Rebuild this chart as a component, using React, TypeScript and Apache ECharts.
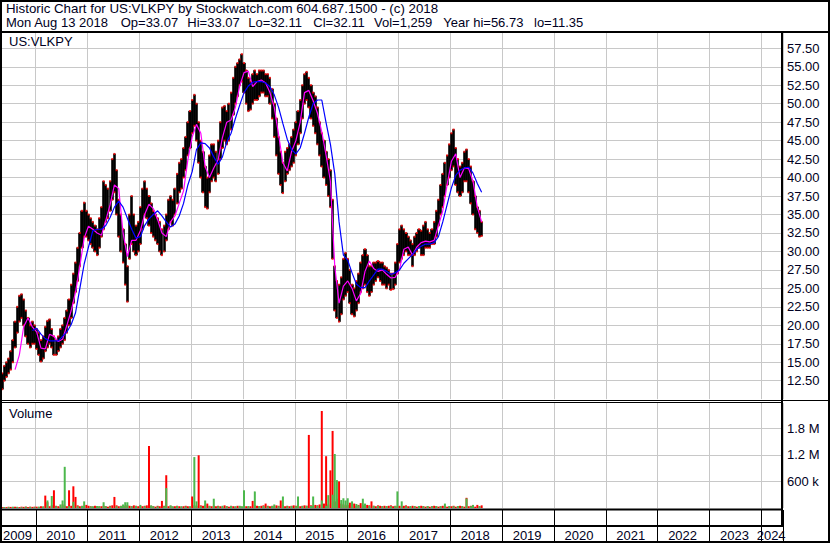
import React, { useEffect, useRef } from "react";
import * as echarts from "echarts";

// ---- time slots: half-month categories, May 2009 (first half) .. May 2024 (first half)
const SLOT_COUNT = 362;
const categories: string[] = [];
for (let i = 0; i < SLOT_COUNT; i++) {
  const m = 4 + Math.floor(i / 2);
  const y = 2009 + Math.floor(m / 12);
  const mm = (m % 12) + 1;
  categories.push(`${y}-${String(mm).padStart(2, "0")}${i % 2 ? "b" : "a"}`);
}
const yearLabels = ["2009","2010","2011","2012","2013","2014","2015","2016","2017","2018","2019","2020","2021","2022","2023","2024"];
const yearLabelSlots = ["2009-08b","2010-06b","2011-06b","2012-06b","2013-06b","2014-06b","2015-06b","2016-06b","2017-06b","2018-06b","2019-06b","2020-06b","2021-06b","2022-06b","2023-06b","2024-03a"];

// ---- price: half-month high / low, slot 0 = May 2009
const priceHigh = [
  13.5,14.5,15,15.5,16.5,18,20.5,22.5,24,24.2,23.5,22,21,20,20.5,20,
  19.5,19,18,18.5,19.8,20.6,20.8,19.5,18.5,18,18.5,19.5,20,21,22,23.5,25.5,27,28.5,30.5,32.5,35.5,36.6,35.5,
  35,34.5,34,33.5,33,34.5,36,39.5,39,38.5,39.5,42.5,43.2,41,37,35,33,31,28,35,37.5,35,33.5,34,
  36,38.5,39.5,38.5,37.5,36.5,35.5,35,34.5,34,33,33.5,35,37,37.5,37,38.5,40.5,42,42.5,44,45.5,47.5,49,
  50.5,51.2,50,47.5,45,43.5,41.5,40,43,44.5,44.5,43.5,45,47.5,49.5,49.7,49,50,51.5,53.5,55,55.5,56,56.7,
  55.5,54.5,53.5,53,54,54.5,54,54.5,54.5,54.5,54,54,53.5,52,50,48,45.5,43.5,42,43.5,44,44.5,45.5,46.5,
  47.5,49,50.5,52.5,54,54.3,53.5,52.5,51.5,51,49.5,47.5,46,45,43.5,42.5,41,37,28,26,25.5,26.5,29,29.8,
  29,27.5,25.5,25,26,27,28.5,29.5,30.3,29.5,28,28,28.5,28.5,28.7,28.5,28.5,28,27.8,27.5,27,27,28.5,31,
  33,33.5,33,32.5,32,31.5,31,32,32.5,33,32.8,33.5,34,33,32.5,33,34,35.5,37,39,40.5,42,43,44.5,
  46,46.5,44,42.5,41.5,42,43.5,43.8,42.5,41.5,39.5,37.5,36,35.5,34,
];
const priceLow = [
  11.35,12.5,13,13.5,14,15,17,19,20.5,21,20,18.5,17.5,17,17.5,17.5,
  16.8,16,15.1,15.5,16.5,17,17.5,17,16,16,16.5,17,17.5,18,19,20,21,23,24.5,26,28,30.5,32,32,
  31.5,31,30.5,30,29.5,30.5,32,33,34,34.5,35.5,37,38,35,32,30,28.5,25.5,23.2,29,31,30,29.5,30,
  31,33,35,34.5,33.5,32.5,32,31.5,31,30,29.5,30,31.5,33,34,33.5,35,36.5,38,38.5,40,41,43,44,
  46,47,45,42,40,38,36,35.8,38,39.5,40,39.5,40.5,42.5,44,45,44.5,45,46.5,48.5,50,51,52.5,53,
  51.5,50,49,49.2,50,50.5,50.5,51,51.5,51.5,51,51,50,48,45.5,43,40.5,39,37.9,39.5,40.5,41,41.5,42,
  43,44.5,46,48,50,50.5,49.5,48,47,46,44.5,43,41.5,40,39,37.5,36,29,22,21,20.5,21.5,23.5,24,
  24.5,23,21.5,21.2,22,23,24.5,25,25.5,24.5,24,24.5,25.5,26,26.5,26,25.5,25.5,25,25.5,24.8,24.9,25.5,27,
  28.5,29,29.5,30,29.5,29.5,28,29.5,30,30.5,29.5,29.5,30.5,30.5,30.5,31,31,32,33.5,35,36,37.5,39,40,
  41,41.5,39,38,37.5,38,39.5,39.5,38,36.5,35,33,32.5,32,32.1,
];

// ---- moving averages read every second slot (one value per month)
const maShortStart = 6;
const maShort = [
  14.0,16,19.8,21,19.8,19.1,16.9,16.8,18.8,18.5,17.8,18.1,20,22,24.5,28,31.8,33.4,33,32.5,32.2,34.2,36.3,39,38.5,
  32.5,29.3,31.5,31.5,32.8,35,36.4,35.8,34.3,32.5,32,34,34.8,36.5,38.2,42.4,45.5,47.2,46,41.5,40,41.3,42.4,45.4,
  47.5,47.8,49.5,52.4,54.2,54.4,52.3,53,53.2,52.8,51.5,49.5,45.8,42,40.9,43.5,45,47.5,51.5,51.8,50.4,48.7,46.2,
  43,39.5,28,23,25.3,26,25,23.3,24.3,27.3,28.7,27.7,27.3,27.5,26.9,26.4,26.5,27.6,30.3,30.6,29.5,30.6,31.2,31.4,
  31.3,31.5,33.5,35.5,39,42.2,43.2,40,41.3,41.2,39.5,36,34,
];
const maLongStart = 14;
const maLong = [
  19.3,19.6,18.8,18.2,17.9,17.9,17.9,18.5,19.1,20.1,21.7,25,28.3,30.6,32.8,33,33,33.5,34.6,36,36.8,36,34.5,33,
  31.8,32,33.5,34.4,35,35.5,34.8,34,33.3,33.7,34.8,36.5,39,40.8,43.8,44.7,44.6,44,42.8,41.8,42.8,44.8,46,48,
  49.8,51.5,52.4,52.9,53,53,52.8,52.3,51.2,49.5,47.3,45.2,43.8,43.2,44,46,48.2,50,50.5,50.5,47.4,44.5,40.5,34,
  29.5,28.8,27.1,25.6,25.1,25.1,26,26.8,27.6,27.6,27.3,26.9,27.1,27.5,28.4,29,29.6,30.3,30.7,31,31,31.2,32,34,
  36.3,38.6,40.3,41,41.3,41.4,40.6,39.2,38,
];

// ---- volume (thousands of shares), biggest session of each half-month
const volDown = [
  20,25,20,30,25,20,30,25,20,30,25,30,20,30,25,30,
  30,25,40,30,280,130,40,60,400,50,40,30,80,50,40,400,50,490,250,60,40,50,40,70,
  50,40,30,50,40,35,40,50,40,30,50,60,250,60,40,50,40,50,60,50,40,60,50,40,
  50,40,50,60,1400,50,40,30,50,40,160,50,740,40,50,30,40,50,40,30,40,50,40,30,
  260,60,50,1190,60,50,60,100,50,40,50,40,50,40,30,60,40,30,50,40,30,50,40,30,
  50,40,30,40,160,60,50,40,50,60,100,50,40,50,40,60,50,170,60,40,50,40,50,60,
  50,60,40,50,60,50,1650,60,50,70,60,80,2190,100,1170,80,850,1740,150,210,600,100,80,60,
  70,120,60,100,50,70,110,60,50,70,60,150,50,40,60,50,40,50,40,50,60,40,50,40,
  50,40,50,60,40,30,50,40,30,40,50,40,30,40,30,40,50,40,30,40,50,40,30,40,
  40,50,30,40,50,40,30,230,40,50,40,30,70,40,60,
];
const volUp = [
  0,25,0,20,0,30,0,25,0,20,0,30,0,25,0,20,
  0,30,0,35,0,170,0,270,0,40,0,80,170,930,0,40,0,140,0,40,0,45,150,0,
  0,35,40,0,45,40,0,130,40,0,35,0,0,40,0,45,80,130,130,0,40,0,45,0,
  70,0,40,0,0,60,40,0,35,0,0,40,450,0,60,40,0,45,0,40,0,35,0,40,
  0,1150,150,0,40,0,170,0,45,0,210,0,40,0,50,0,40,0,45,0,40,0,50,40,
  400,0,45,0,0,375,0,40,0,45,0,40,0,45,80,0,40,0,260,0,40,0,45,0,
  40,260,0,45,0,50,0,45,260,0,50,0,170,0,50,290,0,300,1220,630,0,180,220,170,
  220,0,150,0,90,60,0,210,100,0,45,0,50,0,45,0,40,0,45,0,40,0,45,375,
  0,150,0,40,0,45,0,40,0,45,0,40,0,45,0,40,0,45,0,40,0,100,0,45,
  0,40,0,45,0,40,0,215,0,40,70,0,0,40,0,
];

const headerLine1 = "Historic Chart for US:VLKPY by Stockwatch.com 604.687.1500 - (c) 2018";
const headerFields = ["Mon Aug 13 2018", "Op=33.07", "Hi=33.07", "Lo=32.11", "Cl=32.11", "Vol=1,259", "Year hi=56.73", "lo=11.35"];
const headerFieldX = [6, 120.7, 187.3, 248.3, 313.3, 374, 443.3, 534];

const FONT = '"Liberation Sans", Arial, sans-serif';
const TXT = "#000022";
const GRID = "#c8c8c8";

const isYearStart = (_i: number, v: string) => v.endsWith("-01a");
const labelMap: Record<string, string> = {};
yearLabelSlots.forEach((s, i) => (labelMap[s] = yearLabels[i]));

function buildOption() {
  const candle = priceHigh.map((h, i) => [priceLow[i], h, priceLow[i], h]);
  const shortLine = maShort.map((v, i) => [maShortStart + 2 * i, v]);
  const longLine = maLong.map((v, i) => [maLongStart + 2 * i, v]);
  const txt = (text: string, x: number, y: number, size = 13) => ({
    type: "text", x, y, z: 100,
    style: { text, font: `${size}px ${FONT}`, fill: TXT, verticalAlign: "middle" },
  });
  const ln = (x1: number, y1: number, x2: number, y2: number, w: number) => ({
    type: "line", z: 100, shape: { x1, y1, x2, y2 }, style: { stroke: "#000", lineWidth: w },
  });
  const baseX = {
    type: "category", data: categories, boundaryGap: true,
    axisLine: { show: false }, axisTick: { show: false }, axisLabel: { show: false },
    splitLine: { show: true, interval: isYearStart, lineStyle: { color: GRID, width: 1 } },
  };
  return {
    animation: false,
    backgroundColor: "#ffffff",
    textStyle: { fontFamily: FONT },
    grid: [
      { left: 1, top: 33, width: 782, height: 366.17 },
      { left: 1, top: 403, width: 782, height: 105 },
      { left: 1, top: 510, width: 782, height: 16 },
    ],
    xAxis: [
      { ...baseX, gridIndex: 0 },
      { ...baseX, gridIndex: 1 },
      {
        type: "category", gridIndex: 2, data: categories, boundaryGap: true,
        axisLine: { show: true, lineStyle: { color: "#000", width: 2 } },
        axisTick: { show: true, interval: isYearStart, length: 16, lineStyle: { color: "#000", width: 1 } },
        axisLabel: {
          show: true, interval: (_i: number, v: string) => v in labelMap,
          formatter: (v: string) => labelMap[v] || "", fontSize: 13, color: TXT, margin: 3, fontFamily: FONT,
        },
        splitLine: { show: true, interval: isYearStart, lineStyle: { color: "#000", width: 1 } },
      },
    ],
    yAxis: [
      {
        type: "value", gridIndex: 0, position: "right", min: 10, max: 59.57, interval: 2.5,
        axisLine: { show: false }, axisTick: { show: false },
        axisLabel: { margin: 4, fontSize: 13, color: TXT, fontFamily: FONT, showMinLabel: false, showMaxLabel: false,
          formatter: (v: number) => v.toFixed(2) },
        splitLine: { show: true, showMinLine: false, showMaxLine: false, lineStyle: { color: GRID, width: 1 } },
      },
      {
        type: "value", gridIndex: 1, position: "right", min: 0, max: 2371, interval: 600,
        axisLine: { show: false }, axisTick: { show: false },
        axisLabel: { margin: 4, fontSize: 13, color: TXT, fontFamily: FONT, showMinLabel: false, showMaxLabel: false,
          formatter: (v: number) => (v >= 1000 ? (v / 1000).toFixed(1) + " M" : v + " k") },
        splitLine: { show: true, showMinLine: false, showMaxLine: false, lineStyle: { color: GRID, width: 1 } },
      },
      { type: "value", gridIndex: 2, show: false, splitLine: { show: false } },
    ],
    series: [
      {
        type: "candlestick", xAxisIndex: 0, yAxisIndex: 0, data: candle, barWidth: 2.6,
        itemStyle: { color: "#000", color0: "#000", borderColor: "#000", borderColor0: "#000", borderWidth: 0.6 },
      },
      {
        type: "scatter", xAxisIndex: 0, yAxisIndex: 0, data: priceHigh, symbol: "rect", symbolSize: [2, 2],
        itemStyle: { color: "#ff0000" },
      },
      {
        type: "scatter", xAxisIndex: 0, yAxisIndex: 0, data: priceLow, symbol: "rect", symbolSize: [2, 2],
        itemStyle: { color: "#ff0000" },
      },
      {
        type: "line", xAxisIndex: 0, yAxisIndex: 0, data: shortLine, showSymbol: false, symbol: "none",
        lineStyle: { color: "#ff00ff", width: 1.2 },
      },
      {
        type: "line", xAxisIndex: 0, yAxisIndex: 0, data: longLine, showSymbol: false, symbol: "none",
        lineStyle: { color: "#0000ff", width: 1.2 },
      },
      {
        type: "bar", xAxisIndex: 1, yAxisIndex: 1, data: volDown, barWidth: 2, barGap: "-100%",
        itemStyle: { color: "#ff0000" },
      },
      {
        type: "bar", xAxisIndex: 1, yAxisIndex: 1, data: volUp, barWidth: 2, barGap: "-100%",
        itemStyle: { color: "#4cb84c" },
      },
    ],
    graphic: {
      elements: [
        txt(headerLine1, 6, 8.8, 13.3),
        ...headerFields.map((f, i) => txt(f, headerFieldX[i], 22.2)),
        txt("US:VLKPY", 9, 41.2),
        txt("Volume", 9, 413.8),
        ln(0, 32, 830, 32, 2),
        ln(782, 32, 782, 526, 2),
        ln(0, 400.5, 830, 400.5, 1),
        ln(0, 402.5, 782, 402.5, 1),
        ln(0, 509.5, 782, 509.5, 2),
        { type: "rect", z: 100, shape: { x: 1, y: 1, width: 828, height: 541 },
          style: { fill: "none", stroke: "#000", lineWidth: 2 } },
      ],
    },
  };
}

export default function App() {
  const ref = useRef<HTMLDivElement>(null);
  useEffect(() => {
    if (!ref.current) return;
    const chart = echarts.init(ref.current, undefined, { renderer: "svg", width: 830, height: 543 });
    chart.setOption(buildOption() as any);
    return () => chart.dispose();
  }, []);
  return <div ref={ref} style={{ position: "fixed", left: 0, top: 0, width: 830, height: 543 }} />;
}
